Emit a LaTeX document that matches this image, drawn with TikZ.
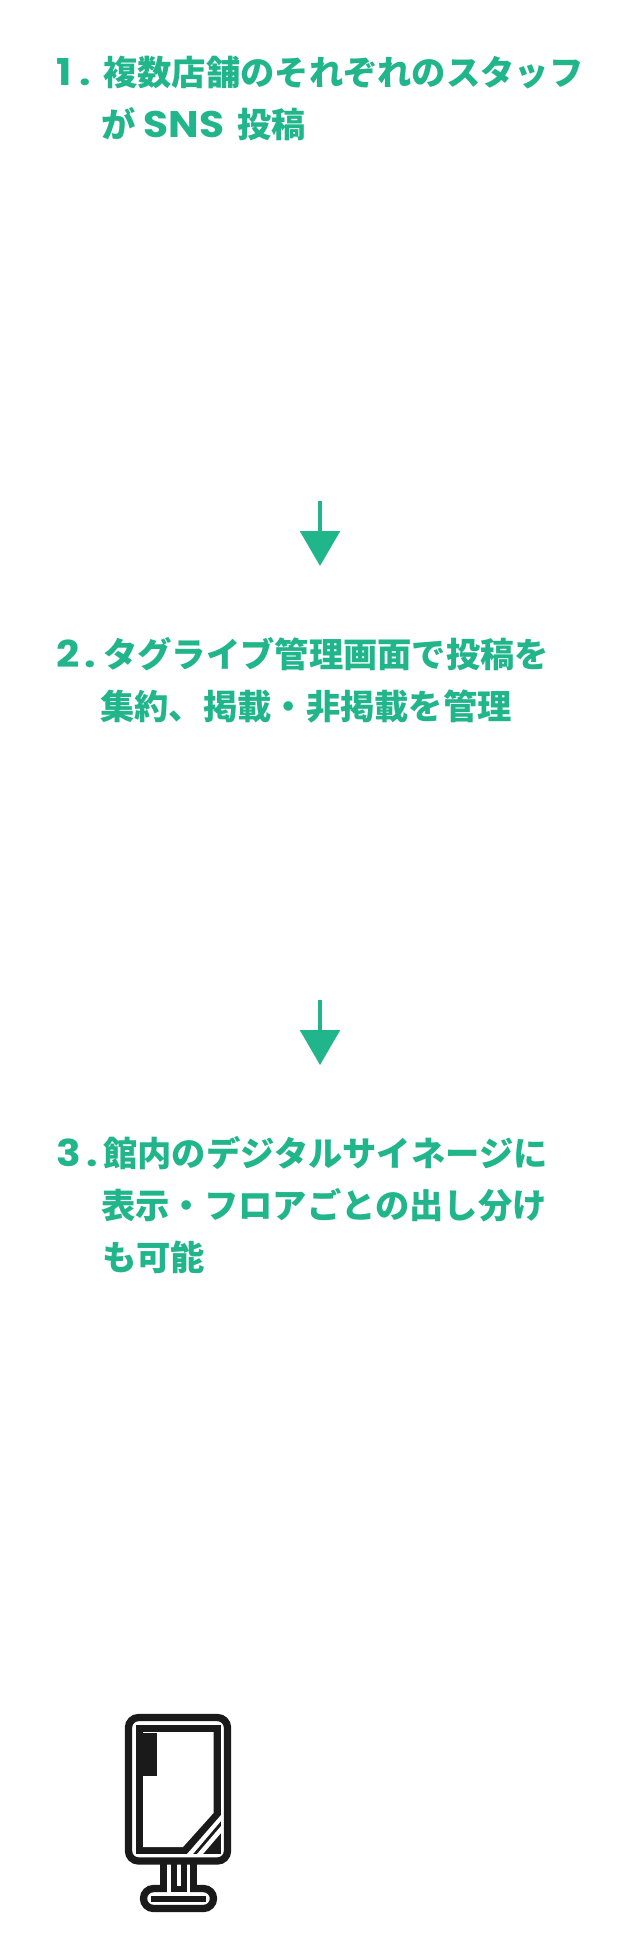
\documentclass[tikz,border=0pt]{standalone}
\usepackage{fontspec}
\newfontfamily\jpfont{Noto Sans CJK JP}[BoldFont={Noto Sans CJK JP Black}]
\newfontfamily\latinfont{Poppins}[BoldFont={Poppins Bold},FakeStretch=1.1]
\newcommand{\latintext}[1]{{\latinfont\fontsize{37}{37}\selectfont #1}}
\usetikzlibrary{arrows.meta}
\definecolor{tealgreen}{HTML}{20B58A}
\definecolor{signblack}{HTML}{1A1A1A}
\tikzset{
	headline/.style={anchor=base west, inner sep=0pt, text=tealgreen, font=\jpfont\bfseries\fontsize{34.3}{34.3}\selectfont},
	flowarrow/.style={draw=tealgreen, line width=4pt, -{Triangle[width=39.5pt,length=35pt]}},
	signline/.style={draw=signblack, line width=7.3pt, fill=white},
}
\begin{document}
\begin{tikzpicture}[x=1pt,y=-1pt]
	\useasboundingbox (0,0) rectangle (640,1960);
	
	%%%%% TEXT %%%%%
	\node[headline] (num1) at (56,85) {\latintext{1\hspace{8pt}.}};
	\node[headline] (line1a) at (103,85) {複数店舗のそれぞれのスタッフ};
	\node[headline] (line1b) at (101,137) {が\hspace{8pt}\latintext{SNS}\hspace{13pt}投稿};
	
	\node[headline] (num2) at (56,667) {\latintext{2\hspace{5pt}.}};
	\node[headline] (line2a) at (103,667) {タグライブ管理画面で投稿を};
	\node[headline] (line2b) at (100,719) {集約、掲載・非掲載を管理};
	
	\node[headline] (num3) at (56,1166) {\latintext{3\hspace{6pt}.}};
	\node[headline] (line3a) at (103,1166) {館内のデジタルサイネージに};
	\node[headline] (line3b) at (101,1218) {表示・フロアごとの出し分け};
	\node[headline] (line3c) at (102,1270) {も可能};
	
	%%%%% ARROWS %%%%%
	\coordinate (arrow1s) at (320,501);
	\coordinate (arrow1e) at (320,566);
	\coordinate (arrow2s) at (320,1000);
	\coordinate (arrow2e) at (320,1065);
	\draw[flowarrow] (arrow1s) -- (arrow1e);
	\draw[flowarrow] (arrow2s) -- (arrow2e);
	
	%%%%% SIGN %%%%%
	\draw[signline, rounded corners=10pt] (143.5,1888.5) rectangle (213.5,1908.5);
	\fill[signblack] (151,1895.5) rectangle (206,1901.5);
	\fill[signblack] (160,1860) rectangle (197,1892);
	\fill[white] (167.3,1864) rectangle (190.3,1892.5);
	\fill[signblack] (170.7,1860) rectangle (187,1892);
	\fill[white] (177,1864) rectangle (180.7,1886);
	
	\draw[signline, fill=none, rounded corners=10pt] (128.5,1717.5) rectangle (227.5,1861);
	\fill[signblack] (136,1725) rectangle (220.5,1853.5);
	\fill[white] (143,1732) -- (213.5,1732) -- (213.5,1813) -- (183,1847) -- (143,1847) -- cycle;
	\fill[signblack] (143,1733) rectangle (157,1776);
	\fill[white] (221,1815) -- (221,1821) -- (193,1854) -- (187,1854) -- cycle;
	\fill[white] (221,1826) -- (221,1833) -- (203,1854) -- (197,1854) -- cycle;
\end{tikzpicture}
\end{document}
